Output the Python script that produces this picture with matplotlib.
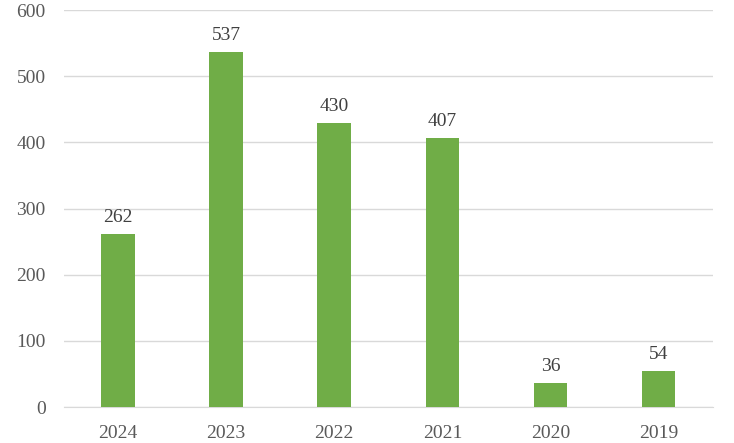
import matplotlib.pyplot as plt

# Datos del gráfico
years = ['2024', '2023', '2022', '2021', '2020', '2019']
values = [262, 537, 430, 407, 36, 54]

plt.rcParams['font.family'] = ['Liberation Serif', 'DejaVu Serif']

fig = plt.figure(figsize=(7.34, 4.43), dpi=100)
ax = fig.add_axes([0.087, 0.081, 0.884, 0.896])

bars = ax.bar(years, values, width=0.31, color='#70AD47', zorder=3)
for b, v in zip(bars, values):
    ax.text(b.get_x() + b.get_width() / 2, v + 12, str(v), ha='center', va='bottom',
            fontsize=14, color='#404040')

ax.set_ylim(0, 600)
ax.set_xlim(-0.5, len(years) - 0.5)
ax.set_yticks(range(0, 601, 100))
ax.yaxis.grid(True, color='#d9d9d9', linewidth=1, zorder=0)
for s in ['top', 'right', 'left']:
    ax.spines[s].set_visible(False)
ax.spines['bottom'].set_color('#d9d9d9')
ax.tick_params(axis='both', length=0, labelsize=14, labelcolor='#595959')
ax.tick_params(axis='x', pad=13)
ax.tick_params(axis='y', pad=13)

fig.savefig('out.png', dpi=100)
